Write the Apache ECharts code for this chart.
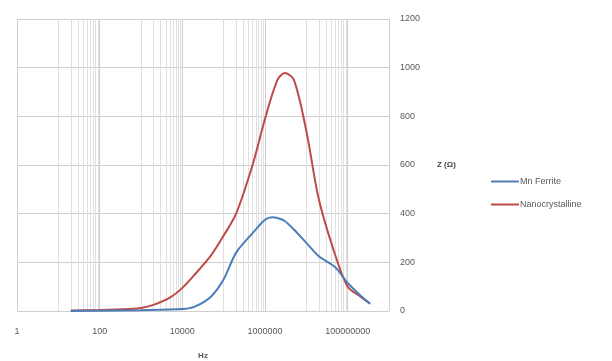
<!DOCTYPE html>
<html>
<head>
<meta charset="utf-8">
<style>
    html, body { margin: 0; padding: 0; background: #fff; }
    #chart { width: 612px; height: 361px; }
</style>
<script src="https://cdn.jsdelivr.net/npm/echarts@6/dist/echarts.min.js"></script>
</head>
<body>
<div id="chart"></div>
<script>
    // frequency (Hz) and impedance Z (ohm)
    const freqFerrite = [20, 100, 1000, 10000, 20000, 50000, 100000, 200000, 500000, 1000000, 1500000, 2000000, 3000000, 5000000, 10000000, 20000000, 50000000, 100000000, 200000000, 350000000];
    const zFerrite = [0, 1, 3, 8, 18, 60, 130, 240, 320, 375, 385, 382, 370, 335, 280, 225, 180, 115, 65, 30];

    const freqNano = [20, 100, 500, 1000, 2000, 5000, 10000, 20000, 50000, 100000, 200000, 500000, 1000000, 2000000, 3000000, 5000000, 10000000, 20000000, 50000000, 100000000, 200000000, 350000000];
    const zNano = [2, 4, 8, 12, 25, 55, 95, 150, 230, 310, 400, 600, 790, 950, 978, 950, 740, 460, 230, 100, 60, 30];

    const yTicks = [0, 200, 400, 600, 800, 1000, 1200];
    // minor vertical gridlines (Excel log base 100 minor unit)
    const minorGrid = [
        10, 20, 30, 40, 50, 60, 70, 80, 90,
        1000, 2000, 3000, 4000, 5000, 6000, 7000, 8000, 9000,
        100000, 200000, 300000, 400000, 500000, 600000, 700000, 800000, 900000,
        10000000, 20000000, 30000000, 40000000, 50000000, 60000000, 70000000, 80000000, 90000000
    ];

    const font = '"Liberation Sans", "DejaVu Sans", sans-serif';
    const pair = (xs, ys) => xs.map((x, i) => [x, ys[i]]);

    let chart = echarts.init(document.getElementById('chart'));
    chart.setOption({
        animation: false,
        textStyle: { fontFamily: font },
        grid: { left: 17, right: 223, top: 19, bottom: 50, outerBoundsMode: 'none' },
        legend: {
            orient: 'vertical',
            left: 486,
            top: 172,
            icon: 'rect',
            itemWidth: 28,
            itemHeight: 2,
            itemGap: 14,
            textStyle: { fontSize: 9, color: '#595959', padding: [0, 0, 0, -4] },
            data: ['Mn Ferrite', 'Nanocrystalline']
        },
        xAxis: {
            type: 'log',
            logBase: 100,
            min: 1,
            max: 1000000000,
            name: 'Hz',
            nameLocation: 'middle',
            nameGap: 41,
            nameTextStyle: { fontSize: 8, fontWeight: 'bold', color: '#595959' },
            axisLine: { show: false },
            axisTick: { show: false },
            axisLabel: {
                fontSize: 9,
                color: '#595959',
                margin: 16,
                showMaxLabel: false,
                formatter: v => Math.round(v).toString()
            },
            splitLine: { show: true, lineStyle: { color: '#cfcfcf', width: 1 } }
        },
        yAxis: {
            type: 'value',
            position: 'right',
            min: yTicks[0],
            max: yTicks[yTicks.length - 1],
            interval: 200,
            name: 'Z (Ω)',
            nameLocation: 'middle',
            nameRotate: 0,
            nameGap: 48,
            nameTextStyle: { fontSize: 8, fontWeight: 'bold', color: '#404040' },
            axisLine: { show: true, lineStyle: { color: '#cfcfcf' } },
            axisTick: { show: false },
            axisLabel: { fontSize: 9, color: '#595959', margin: 11, formatter: v => String(v) },
            splitLine: { show: true, lineStyle: { color: '#cfcfcf', width: 1 } }
        },
        series: [
            {
                name: 'Mn Ferrite',
                type: 'line',
                smooth: 0.3,
                showSymbol: false,
                color: '#4a7ebb',
                lineStyle: { width: 2 },
                data: pair(freqFerrite, zFerrite),
                z: 3,
                markLine: {
                    silent: true,
                    symbol: 'none',
                    label: { show: false },
                    lineStyle: { color: '#e0e0e0', type: 'solid', width: 1 },
                    z: 1,
                    data: minorGrid.map(v => ({ xAxis: v }))
                }
            },
            {
                name: 'Nanocrystalline',
                type: 'line',
                smooth: 0.3,
                showSymbol: false,
                color: '#be4b48',
                lineStyle: { width: 2 },
                z: 2,
                data: pair(freqNano, zNano)
            }
        ]
    });
</script>
</body>
</html>
